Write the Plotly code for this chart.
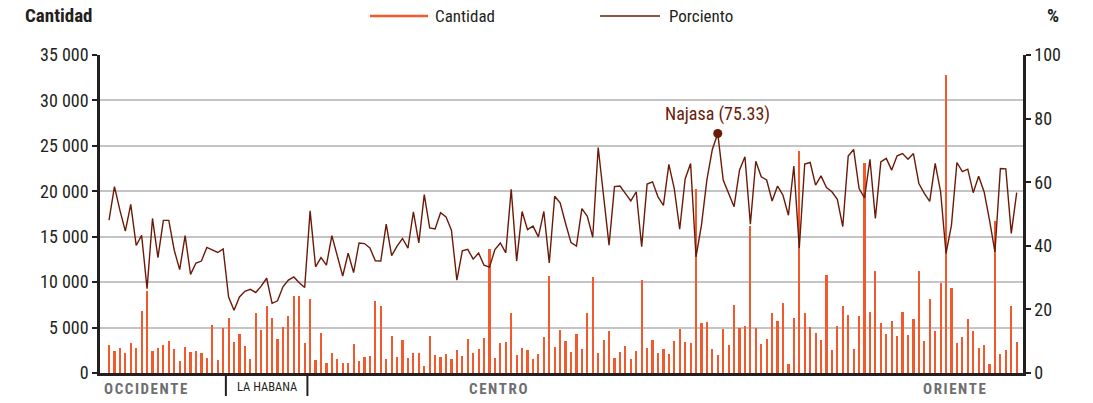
import plotly.graph_objects as go

# ---- data ----
cantidad = [
    3100, 2400, 2800, 2150, 3350, 2800, 6800, 9000, 2400, 2750, 3100, 3550, 2650, 1300, 2900, 2300, 2400, 2150, 1700, 5250, 1400, 4900,
    6000, 3450, 4250, 3000, 1550, 6550, 4750, 7400, 6050, 3700, 5050, 6300, 8500, 8500, 3300,
    8150, 1400, 4400, 1150, 2150, 1550, 1150, 1150, 3200, 1300, 1800, 1850, 7900, 7400, 1550, 4100, 1800, 3600, 1700, 2150,
    2150, 800, 4100, 1950, 1800, 2100, 1500, 2500, 1900, 3700,
    2250, 2650, 3900, 13700, 1700, 3350, 3450, 6550, 1950, 2750, 2500, 1550, 2050, 4000, 10700, 2900, 4750, 3550, 2350, 4250,
    2650, 6650, 10600, 2150, 3650, 4600, 1700, 2350, 2950, 1550, 2450, 10200, 2800, 3650,
    2200, 2650, 2100, 3550, 4800, 3450, 3350, 20300, 5450, 5600, 2650, 1950, 4850, 3050, 7500, 4950, 5200, 16200, 4900, 3200,
    3750, 6600, 5750, 7750, 1000, 6050, 24450, 6650, 5050, 4450, 3650, 10800, 2500, 5200,
    7400, 6400, 2600, 6300, 23100, 6700, 11200, 5500, 4300, 5750, 4100, 6750, 4200, 5900, 11200, 3500, 8200, 4650, 9900, 32800,
    9350, 3300, 4000, 5950, 4600, 2750, 3050, 950, 16700, 2100, 2500, 7350, 3400,
]
porciento = [
    48.1, 58.6, 51.2, 44.6, 53.0, 40.1, 43.3, 26.5, 48.6, 36.3, 48.0, 48.0, 38.6, 32.5, 43.2, 31.0, 34.6, 35.2, 39.5, 38.8, 37.9, 39.0,
    23.9, 19.7, 23.9, 25.7, 26.3, 25.3, 27.3, 29.8, 21.9, 22.7, 27.1, 29.2, 30.2, 28.4, 26.9,
    51.0, 33.4, 36.3, 33.9, 43.2, 36.7, 30.5, 37.7, 31.6, 40.9, 40.7, 39.3, 35.3, 35.2, 46.8, 36.9, 39.9, 42.3, 39.3, 50.7,
    40.9, 56.1, 45.6, 45.3, 50.4, 49.1, 44.9, 29.2, 38.4, 38.9,
    35.8, 37.7, 33.9, 33.3, 38.8, 40.9, 37.8, 57.8, 35.2, 50.8, 45.1, 46.2, 42.8, 50.8, 34.6, 55.6, 53.5, 47.0, 41.0, 39.9,
    51.7, 49.3, 42.7, 70.9, 56.5, 40.2, 58.6, 58.8, 56.5, 54.1, 57.0, 39.7, 59.4, 60.1,
    55.4, 52.7, 65.6, 58.0, 45.2, 61.0, 65.9, 36.5, 46.5, 60.7, 70.3, 75.33, 60.7, 56.5, 52.3, 63.8, 68.0, 46.8, 66.6, 61.7,
    60.7, 54.1, 58.8, 55.9, 49.6, 65.1, 39.3, 65.7, 66.2, 59.1, 62.0, 58.3, 57.0, 54.6,
    46.0, 68.2, 70.3, 58.0, 55.1, 67.2, 48.6, 66.4, 67.5, 63.8, 68.3, 69.0, 67.2, 69.0, 59.6, 56.5, 54.0, 65.9, 57.0, 37.6,
    46.5, 66.2, 63.3, 64.1, 56.7, 61.9, 57.0, 48.1, 38.1, 64.3, 64.2, 43.9, 56.7,
]
regiones = ["OCCIDENTE", "LA HABANA", "CENTRO", "ORIENTE"]
region_limits = [21.5, 36.5]          # boundaries between municipality groups (bar index)
left_ticks = [0, 5000, 10000, 15000, 20000, 25000, 30000, 35000]
left_ticktext = ["0", "5 000", "10 000", "15 000", "20 000", "25 000", "30 000", "35 000"]
right_ticks = [0, 20, 40, 60, 80, 100]
highlight_name = "Najasa"
highlight_idx = porciento.index(max(porciento))

x = list(range(len(cantidad)))

BAR = "#f25a2e"
LINE = "#6b1a08"
DARK = "#231f20"
GREY = "#6d6e71"
FONT = "Roboto Condensed, Liberation Sans Narrow, sans-serif"
HAIR = "\u200a"

def spaced(s):
    return HAIR.join(s)

fig = go.Figure()
fig.add_trace(go.Bar(x=x, y=cantidad, marker=dict(color=BAR, line=dict(width=0)),
                     width=0.4, name="Cantidad", showlegend=False))
fig.add_trace(go.Scatter(x=x, y=porciento, yaxis="y2", mode="lines",
                         line=dict(color=LINE, width=1.4), name="Porciento", showlegend=False))
fig.add_trace(go.Scatter(x=[highlight_idx], y=[porciento[highlight_idx]], yaxis="y2", mode="markers",
                         marker=dict(color=LINE, size=9), showlegend=False))

W, H = 1093, 403
L, R, T, B = 100, 1023, 55, 373
def px(p):
    return (p - L) / (R - L)
def py(p):
    return (B - p) / (B - T)

annotations = [
    dict(text="<b>Cantidad</b>", x=px(23), y=py(16), xanchor="left", yanchor="middle",
         font=dict(size=19, color=DARK)),
    dict(text="<b>%</b>", x=px(1053), y=py(16), xanchor="center", yanchor="middle",
         font=dict(size=19, color=DARK)),
    dict(text="Cantidad", x=px(433), y=py(16), xanchor="left", yanchor="middle",
         font=dict(size=17, color=DARK)),
    dict(text="Porciento", x=px(667), y=py(16), xanchor="left", yanchor="middle",
         font=dict(size=17, color=DARK)),
    dict(text="<b>" + spaced(regiones[0]) + "</b>", x=px(102), y=py(389), xanchor="left", yanchor="middle",
         font=dict(size=15, color=GREY)),
    dict(text=regiones[1], x=px(267), y=py(386), xanchor="center", yanchor="middle",
         font=dict(size=12.5, color=DARK)),
    dict(text="<b>" + spaced(regiones[2]) + "</b>", x=px(498), y=py(389), xanchor="center", yanchor="middle",
         font=dict(size=15, color=GREY)),
    dict(text="<b>" + spaced(regiones[3]) + "</b>", x=px(988), y=py(389), xanchor="right", yanchor="middle",
         font=dict(size=15, color=GREY)),
]
for a in annotations:
    a.update(xref="paper", yref="paper", showarrow=False)
annotations.append(dict(text=f"{highlight_name} ({porciento[highlight_idx]:.2f})", x=highlight_idx,
                        y=porciento[highlight_idx], xref="x", yref="y2", showarrow=False,
                        yshift=19, xanchor="center", yanchor="middle",
                        font=dict(size=18, color=LINE)))

shapes = [
    dict(type="line", xref="paper", yref="paper", x0=px(370), x1=px(428), y0=py(16), y1=py(16),
         line=dict(color=BAR, width=2.5)),
    dict(type="line", xref="paper", yref="paper", x0=px(600), x1=px(660), y0=py(16), y1=py(16),
         line=dict(color=LINE, width=1.5)),
]
for b in region_limits:
    shapes.append(dict(type="line", xref="x", yref="paper", x0=b, x1=b, y0=0, y1=py(396),
                       line=dict(color=DARK, width=2)))

fig.update_layout(
    width=W, height=H,
    margin=dict(l=L, r=W - R, t=T, b=H - B),
    paper_bgcolor="white", plot_bgcolor="white",
    font=dict(family=FONT, size=17, color=DARK),
    bargap=0,
    xaxis=dict(range=[-1.66, 168.16], showgrid=False, zeroline=False, showticklabels=False,
               showline=True, linecolor=DARK, linewidth=3, ticks=""),
    yaxis=dict(range=[0, 35000], tickvals=left_ticks, ticktext=left_ticktext,
               showgrid=True, gridcolor="#c4c4c4", gridwidth=1.5, zeroline=False,
               showline=True, linecolor=DARK, linewidth=2.5, ticks="outside", ticklen=5,
               tickwidth=2, tickcolor=DARK, tickfont=dict(size=18, color=DARK)),
    yaxis2=dict(range=[0, 100], tickvals=right_ticks, overlaying="y", side="right",
                showgrid=False, zeroline=False, showline=True, linecolor=DARK, linewidth=2.5,
                ticks="outside", ticklen=5, tickwidth=2, tickcolor=DARK,
                tickfont=dict(size=18, color=DARK)),
    annotations=annotations,
    shapes=shapes,
)

fig.write_html("out.html", config={"displayModeBar": False},
               post_script="document.body.style.margin='0';")
